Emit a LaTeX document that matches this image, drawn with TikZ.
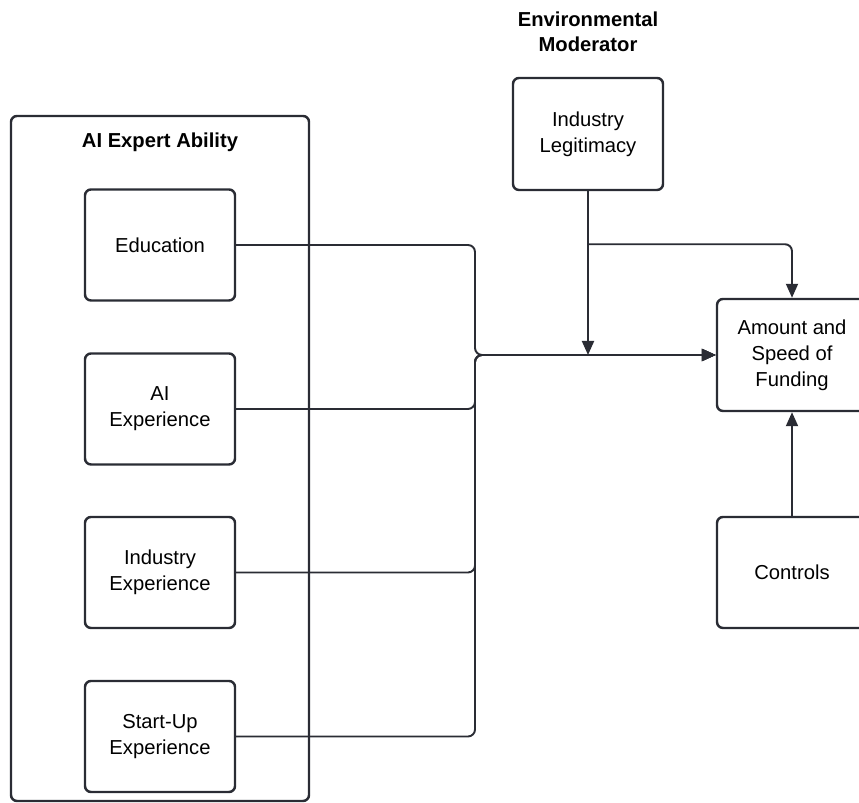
\documentclass[tikz,border=0pt]{standalone}
\usepackage{fontspec}
\setmainfont{Liberation Sans}
\usetikzlibrary{arrows.meta, positioning}

\definecolor{linegray}{RGB}{42,44,52}

\tikzset{
	block/.style={shape=rectangle, draw=linegray, line width=1.4pt, rounded corners=3.4pt, minimum width=3cm, minimum height=2.22cm, align=center, font=\fontsize{11.5pt}{14.7pt}\selectfont},
	heading/.style={align=center, font=\fontsize{11.5pt}{14.2pt}\selectfont\bfseries},
	wire/.style={draw=linegray, line width=1.1pt, rounded corners=4pt},
	arrow/.style={wire, -{Triangle[length=0.28cm, width=0.24cm]}}
}

\begin{document}
\begin{tikzpicture}
	% frame of the picture
	\useasboundingbox (0, 0) rectangle (17.18, 16.06);

	% Ability group:
	\node[block, minimum width=5.96cm, minimum height=13.7cm](ability) at (3.2, 6.89){};
	\node[heading](abilitytitle) at (3.2, 13.22){AI Expert Ability};
	\node[block](edu) at (3.2, 11.16){Education};
	\node[block](aiexp) at (3.2, 7.88){AI\\Experience};
	\node[block](indexp) at (3.2, 4.61){Industry\\Experience};
	\node[block](startup) at (3.2, 1.33){Start-Up\\Experience};

	% Moderator, outcome and controls:
	\node[heading](modtitle) at (11.76, 15.42){Environmental\\Moderator};
	\node[block, minimum height=2.24cm](legit) at (11.76, 13.38){Industry\\Legitimacy};
	\node[block, minimum height=2.24cm](fund) at (15.84, 8.96){Amount and\\Speed of\\Funding};
	\node[block](controls) at (15.84, 4.61){Controls};

	% Wires:
	\coordinate (jn) at (9.5, 8.96);
	\draw[arrow] (edu.east) -| (jn) -- (fund.west);
	\draw[arrow] (aiexp.east) -| (jn) -- (fund.west);
	\draw[arrow] (indexp.east) -| (jn) -- (fund.west);
	\draw[arrow] (startup.east) -| (jn) -- (fund.west);
	\draw[arrow] (legit.south) -- (legit.south |- jn);
	\path (legit.south) ++(0, -1.06) coordinate (br);
	\draw[arrow] (br) -| (fund.north);
	\draw[arrow] (controls.north) -- (fund.south);
\end{tikzpicture}
\end{document}
